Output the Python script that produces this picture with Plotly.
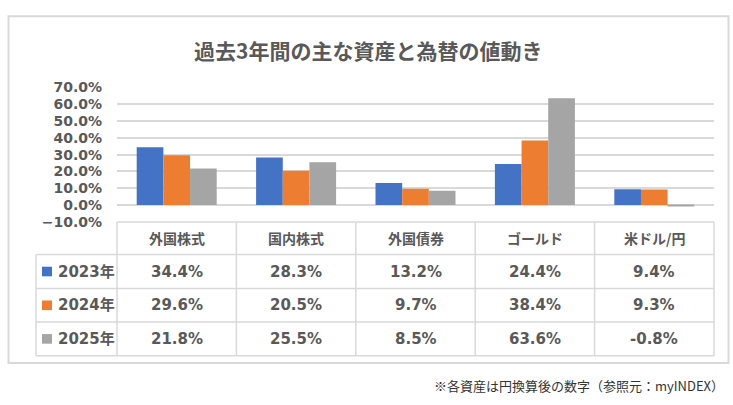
import plotly.graph_objects as go

categories = ["外国株式", "国内株式", "外国債券", "ゴールド", "米ドル/円"]
years = ["2023年", "2024年", "2025年"]
v2023 = [0.344, 0.283, 0.132, 0.244, 0.094]
v2024 = [0.296, 0.205, 0.097, 0.384, 0.093]
v2025 = [0.218, 0.255, 0.085, 0.636, -0.008]
colors = ["#4472C4", "#ED7D31", "#A5A5A5"]
title_text = "過去3年間の主な資産と為替の値動き"
footnote = "※各資産は円換算後の数字（参照元：myINDEX）"

W, H = 733, 405
def px(x):
    return x / W
def py(y):
    return 1 - y / H

FONT = "DejaVu Sans, Noto Sans CJK JP, sans-serif"
TXT = "#595959"
GRID = "#D9D9D9"

series = [v2023, v2024, v2025]
fig = go.Figure()
for name, vals, c in zip(years, series, colors):
    fig.add_trace(go.Bar(x=categories, y=vals, name=name, marker=dict(color=c, line=dict(width=0)),
                         showlegend=False, hoverinfo="skip"))

# plot area geometry
x0, x1 = 117, 714
ytop, ybot = 82.7, 222.7
fig.update_layout(
    width=W, height=H, margin=dict(l=0, r=0, t=0, b=0),
    paper_bgcolor="white", plot_bgcolor="white",
    barmode="group", bargap=0.33, bargroupgap=0,
    xaxis=dict(domain=[px(x0), px(x1)], range=[-0.5, 4.5], showticklabels=False,
               showgrid=False, zeroline=False, fixedrange=True),
    yaxis=dict(domain=[py(ybot), py(ytop)], range=[-0.1, 0.7], dtick=0.1, tick0=0,
               tickformat=".1%", showgrid=True, gridcolor=GRID, gridwidth=1.5,
               zeroline=True, zerolinecolor=GRID, zerolinewidth=1.5,
               tickfont=dict(family=FONT, size=14, color=TXT, weight="bold"),
               ticklabelstandoff=14, fixedrange=True),
)

shapes = []
# outer frame
shapes.append(dict(type="rect", xref="paper", yref="paper", x0=px(8.5), x1=px(728.5),
                   y0=py(369.5), y1=py(8.5), line=dict(color=GRID, width=2), layer="below"))
# table lines
row_edges = [222.7, 256.7, 292, 327, 362]
col_edges = [x0 + i * (x1 - x0) / 5 for i in range(6)]
leg_left = 36
for i, yy in enumerate(row_edges):
    shapes.append(dict(type="line", xref="paper", yref="paper",
                       x0=px(x0 if i == 0 else leg_left), x1=px(x1), y0=py(yy), y1=py(yy),
                       line=dict(color=GRID, width=1.5)))
for xx in col_edges:
    shapes.append(dict(type="line", xref="paper", yref="paper", x0=px(xx), x1=px(xx),
                       y0=py(row_edges[0]), y1=py(row_edges[-1]), line=dict(color=GRID, width=1.5)))
shapes.append(dict(type="line", xref="paper", yref="paper", x0=px(leg_left), x1=px(leg_left),
                   y0=py(row_edges[1]), y1=py(row_edges[-1]), line=dict(color=GRID, width=1.5)))

annotations = []
tfont = dict(family=FONT, size=15, color=TXT, weight="bold")
hdr_y = (row_edges[0] + row_edges[1]) / 2
for i, cat in enumerate(categories):
    annotations.append(dict(x=i, y=py(hdr_y), xref="x", yref="paper", text=cat, showarrow=False,
                            font=dict(family="Noto Sans CJK JP, sans-serif", size=14, color=TXT, weight="bold"),
                            xanchor="center", yanchor="middle"))
for r, (name, vals, c) in enumerate(zip(years, series, colors)):
    yc = (row_edges[r + 1] + row_edges[r + 2]) / 2
    shapes.append(dict(type="rect", xref="paper", yref="paper", x0=px(42), x1=px(52),
                       y0=py(yc + 5), y1=py(yc - 5), fillcolor=c, line=dict(width=0)))
    annotations.append(dict(x=px(56), y=py(yc), xref="paper", yref="paper", text=name, showarrow=False,
                            font=tfont, xanchor="left", yanchor="middle"))
    for i, v in enumerate(vals):
        annotations.append(dict(x=i, y=py(yc), xref="x", yref="paper", text=f"{v*100:.1f}%",
                                showarrow=False, font=tfont, xanchor="center", yanchor="middle"))

annotations.append(dict(x=px(368), y=py(44), xref="paper", yref="paper", text=title_text, showarrow=False,
                        font=dict(family="Noto Sans CJK JP, sans-serif", size=21, color=TXT, weight="bold"),
                        xanchor="center", yanchor="middle"))
annotations.append(dict(x=px(726), y=py(393), xref="paper", yref="paper", text=footnote, showarrow=False,
                        font=dict(family="Noto Sans CJK JP, sans-serif", size=13, color="#333333"),
                        xanchor="right", yanchor="middle"))

fig.update_layout(shapes=shapes, annotations=annotations)
fig.write_html("out.html", config={"displayModeBar": False},
               post_script="document.body.style.margin='0';document.body.style.overflow='hidden';")
